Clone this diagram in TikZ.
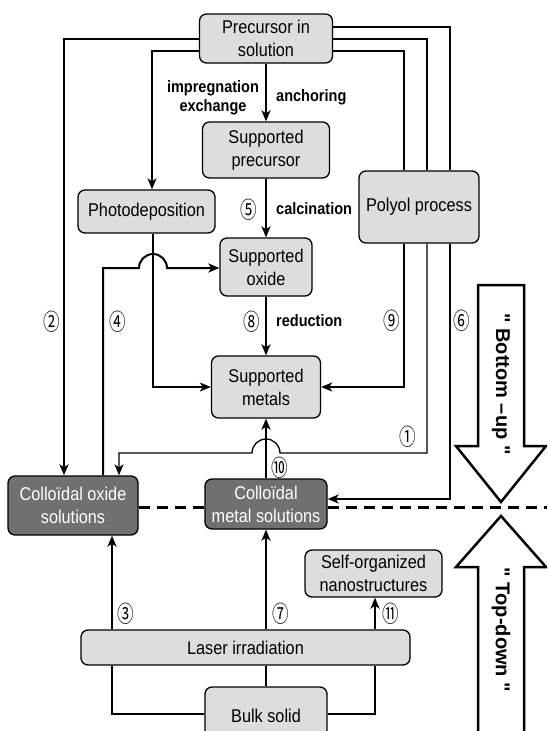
\documentclass[tikz,border=0pt]{standalone}
\usepackage{fontspec}
\setmainfont[FakeStretch=0.88]{Liberation Sans}
\newfontfamily\circfont[FakeStretch=0.72]{Noto Sans CJK JP}
\newfontfamily\arrowfont{Liberation Sans}
\usetikzlibrary{arrows.meta}
\definecolor{boxlight}{RGB}{221,221,221}
\definecolor{boxdark}{RGB}{112,112,112}

\begin{document}
\begin{tikzpicture}[x=1pt, y=-1pt,
    procbox/.style={draw, line width=1.3pt, rounded corners=7pt, fill=boxlight,
        align=center, inner sep=0pt, font=\fontsize{18.5}{23}\selectfont},
    darkproc/.style={procbox, fill=boxdark, text=white},
    steplbl/.style={inner sep=0pt, align=center, font=\fontsize{16.5}{19}\selectfont\bfseries},
    numlbl/.style={inner sep=0pt, font=\circfont\fontsize{23}{23}\selectfont},
    tip/.style={-{Stealth[length=11pt,width=9pt,inset=3pt]}},
    thinflow/.style={line width=1.3pt},
    midflow/.style={line width=2pt},
    heavyflow/.style={line width=2.8pt},
    bigarrow/.style={draw, fill=white, line width=2.5pt, line join=miter},
    arrowlbl/.style={rotate=-90, inner sep=0pt, font=\arrowfont\fontsize{20}{20}\selectfont\bfseries}]

    \useasboundingbox (0,0) rectangle (547,731);
    \clip (0,0) rectangle (547,731);

    % boxes
    \node[procbox, minimum width=133, minimum height=49] (pre) at (266,38.5) {Precursor in\\solution};
    \node[procbox, minimum width=127, minimum height=56] (sprec) at (266,150) {Supported\\precursor};
    \node[procbox, minimum width=137, minimum height=43] (photo) at (146.5,211.5) {Photodeposition};
    \node[procbox, minimum width=120, minimum height=72] (polyol) at (419,207) {Polyol process};
    \node[procbox, minimum width=92, minimum height=58] (soxide) at (266,267) {Supported\\oxide};
    \node[procbox, minimum width=109, minimum height=62] (smetal) at (266,387) {Supported\\metals};
    \node[darkproc, minimum width=130, minimum height=59] (coxide) at (73,505.5) {Colloïdal oxide\\solutions};
    \node[darkproc, minimum width=122, minimum height=50] (cmetal) at (266,504) {Colloïdal\\metal solutions};
    \node[procbox, minimum width=137, minimum height=47] (self) at (373.5,573.5) {Self-organized\\nanostructures};
    \node[procbox, minimum width=329, minimum height=35] (laser) at (245.5,647.5) {Laser irradiation};
    \node[procbox, minimum width=122, minimum height=58] (bulk) at (266,716) {Bulk solid};

    % main chain
    \draw[heavyflow, tip] (pre) -- (sprec);
    \draw[heavyflow, tip] (sprec) -- (soxide);
    \draw[heavyflow, tip] (soxide) -- (smetal);
    \draw[heavyflow, tip] (cmetal) -- (smetal);

    % left side
    \draw[midflow, tip] (pre.west |- 0,39) -| (coxide.north -| 64,0);
    \draw[midflow, tip] (pre.west |- 0,51) -| (photo.north -| 152,0);
    \draw[thinflow, tip] (photo.south -| 153,0) |- (smetal.west |- 0,387);
    \draw[midflow, tip] (coxide.north -| 103,0) |- (139,268)
        arc[start angle=180, end angle=0, radius=14pt] -- (soxide.west |- 0,268);

    % right side, through the polyol process
    \draw[midflow] (pre.east |- 0,27) -| (polyol.north -| 450,0);
    \draw[midflow] (pre.east |- 0,39) -| (polyol.north -| 427,0);
    \draw[midflow] (pre.east |- 0,51) -| (polyol.north -| 404,0);
    \draw[thinflow, tip] (polyol.south -| 404,0) |- (smetal.east |- 0,387);
    \draw[thinflow, tip] (polyol.south -| 427,0) |- (280,453)
        arc[start angle=0, end angle=180, radius=14pt] -| (coxide.north -| 119,0);
    \draw[midflow, tip] (polyol.south -| 450,0) |- (cmetal.east |- 0,499);

    % laser part
    \draw[heavyflow, tip] (laser.north -| 112,0) -- (coxide.south -| 112,0);
    \draw[heavyflow, tip] (laser.north -| cmetal.south) -- (cmetal.south);
    \draw[heavyflow, tip] (laser.north -| 375,0) -- (self.south -| 375,0);
    \draw[heavyflow] (bulk.north) -- (laser.south -| bulk.north);
    \draw[heavyflow] (bulk.west |- 0,714) -| (laser.south -| 112,0);
    \draw[heavyflow] (bulk.east |- 0,714) -| (laser.south -| 375,0);

    % border between the two routes
    \draw[line width=3pt, dash pattern=on 11pt off 7pt] (coxide.east |- 0,507) -- (cmetal.west |- 0,507);
    \draw[line width=3pt, dash pattern=on 11pt off 7pt] (cmetal.east |- 0,507) -- (547,507);

    % step names
    \node[steplbl] (impr) at (213,97.5) {impregnation\\exchange};
    \node[steplbl, anchor=west] (anch) at (276,97) {anchoring};
    \node[steplbl, anchor=west] (calc) at (276,209) {calcination};
    \node[steplbl, anchor=west] (redu) at (276,321) {reduction};

    % route numbers
    \node[numlbl] (n1) at (408,437) {①};
    \node[numlbl] (n2) at (52,322) {②};
    \node[numlbl] (n3) at (126,614) {③};
    \node[numlbl] (n4) at (118,322) {④};
    \node[numlbl] (n5) at (249,210) {⑤};
    \node[numlbl] (n6) at (462,321) {⑥};
    \node[numlbl] (n7) at (281,614) {⑦};
    \node[numlbl] (n8) at (252,322) {⑧};
    \node[numlbl] (n9) at (392,321) {⑨};
    \node[numlbl] (n10) at (280,468) {⑩};
    \node[numlbl] (n11) at (391,614) {⑪};

    % big arrows
    \draw[bigarrow] (478,285) -- (524,285) -- (524,446) -- (546,446) -- (501,502)
        -- (456,446) -- (478,446) -- cycle;
    \node[arrowlbl] (bu) at (501,384) {" Bottom –up "};
    \draw[bigarrow] (478,740) -- (478,567) -- (456,567) -- (501,516) -- (546,567)
        -- (524,567) -- (524,740);
    \node[arrowlbl] (td) at (501,630) {" Top-down "};

\end{tikzpicture}
\end{document}
